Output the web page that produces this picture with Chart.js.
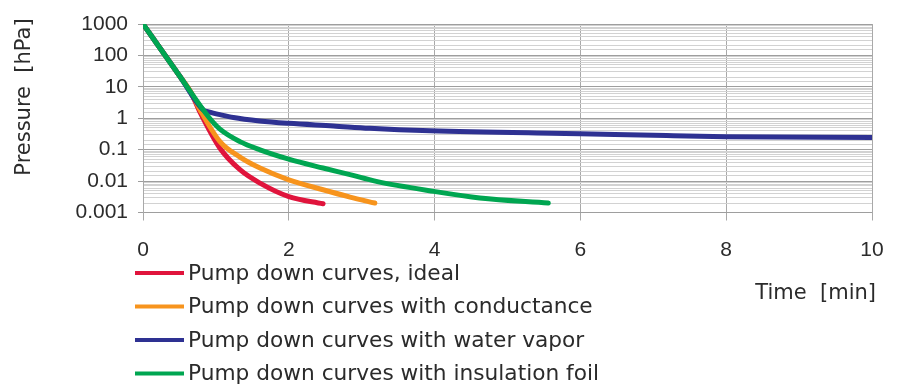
<!DOCTYPE html>
<html>
<head>
<meta charset="utf-8">
<script src="https://cdn.jsdelivr.net/npm/chart.js@4/dist/chart.umd.min.js"></script>
<style>
  html, body { margin: 0; padding: 0; background: #fff; }
  #wrap { width: 903px; height: 385px; position: relative; }
</style>
</head>
<body>
<div id="wrap"><canvas id="chart"></canvas></div>
<script>
// データ
var seriesNames = [
    'Pump down curves, ideal',
    'Pump down curves with conductance',
    'Pump down curves with water vapor',
    'Pump down curves with insulation foil'
];
var timeIdeal = [0, 0.5, 0.66, 0.78, 1.056, 1.33, 1.605, 2.0, 2.47];
var pressIdeal = [1000, 22.6, 6.4, 1.6, 0.111, 0.023, 0.0086, 0.0032, 0.0019];

var timeConductance = [0, 0.5, 0.66, 0.78, 1.056, 1.33, 1.605, 2.0, 2.47, 2.84, 3.18];
var pressConductance = [1000, 22.6, 6.6, 1.9, 0.18, 0.058, 0.026, 0.011, 0.0053, 0.0031, 0.002];

var timeVapor = [0, 0.5, 0.83, 0.9, 1.056, 1.24, 1.6, 2.0, 2.61, 3.11, 3.94, 6.0, 7.18, 8.0, 10];
var pressVapor = [1000, 22.6, 1.8, 1.6, 1.3, 1.05, 0.82, 0.69, 0.57, 0.48, 0.40, 0.32, 0.28, 0.26, 0.245];

var timeFoil = [0, 0.5, 0.9, 1.056, 1.33, 1.605, 2.0, 2.47, 2.84, 3.2, 3.99, 4.62, 5.56];
var pressFoil = [1000, 22.6, 1.1, 0.45, 0.18, 0.099, 0.05, 0.026, 0.016, 0.0098, 0.0047, 0.0029, 0.002];

var xTicks = [0, 2, 4, 6, 8, 10];
var yTicks = [1000, 100, 10, 1, 0.1, 0.01, 0.001];

var FONT = '"DejaVu Sans", sans-serif';
var TICK_FONT = '"Liberation Sans", Arial, sans-serif';

function toPoints(xs, ys) {
    return xs.map(function (x, i) { return { x: x, y: ys[i] }; });
}

function isMajor(v) {
    var l = Math.log10(v);
    return Math.abs(l - Math.round(l)) < 1e-6;
}

// 凡例と軸タイトル
var extraText = {
    id: 'extraText',
    afterDraw: function (chart) {
        var ctx = chart.ctx;
        ctx.save();
        ctx.fillStyle = '#2b2b2b';
        ctx.textBaseline = 'middle';

        // y軸タイトル
        ctx.font = '21px ' + FONT;
        ctx.save();
        ctx.translate(25, 97);
        ctx.rotate(-Math.PI / 2);
        ctx.textAlign = 'center';
        ctx.fillText('Pressure  [hPa]', 0, 0);
        ctx.restore();

        // x軸タイトル
        ctx.textAlign = 'right';
        ctx.fillText('Time  [min]', 876, 294);

        // 凡例
        ctx.font = '21.7px ' + FONT;
        ctx.textAlign = 'left';
        chart.data.datasets.forEach(function (ds, i) {
            var y = 273 + i * 33.5;
            ctx.strokeStyle = ds.borderColor;
            ctx.lineWidth = 4;
            ctx.beginPath();
            ctx.moveTo(135, y);
            ctx.lineTo(184, y);
            ctx.stroke();
            ctx.fillText(ds.label, 188, y + 1);
        });
        ctx.restore();
    }
};

var ctx = document.getElementById('chart');
var chart = new Chart(ctx, {
    type: 'line',
    data: {
        datasets: [
            { label: seriesNames[0], data: toPoints(timeIdeal, pressIdeal), borderColor: '#e0143c', order: 3 },
            { label: seriesNames[1], data: toPoints(timeConductance, pressConductance), borderColor: '#f7941d', order: 2 },
            { label: seriesNames[2], data: toPoints(timeVapor, pressVapor), borderColor: '#2e3192', order: 1 },
            { label: seriesNames[3], data: toPoints(timeFoil, pressFoil), borderColor: '#00a651', order: 0 }
        ]
    },
    options: {
        responsive: true,
        maintainAspectRatio: false,
        animation: false,
        elements: {
            line: { borderWidth: 5, cubicInterpolationMode: 'monotone', borderCapStyle: 'round', borderJoinStyle: 'round' },
            point: { radius: 0 }
        },
        layout: { padding: { left: 0, top: 24, right: 31, bottom: 0 } },
        plugins: {
            legend: { display: false },
            tooltip: { enabled: false }
        },
        scales: {
            x: {
                type: 'linear',
                min: 0,
                max: 10,
                afterBuildTicks: function (scale) {
                    scale.ticks = xTicks.map(function (v) { return { value: v }; });
                },
                afterFit: function (scale) { scale.height = 172.5; },
                ticks: { font: { family: TICK_FONT, size: 21 }, color: '#2b2b2b', padding: 17, maxRotation: 0 },
                grid: { color: '#a9a9a9', lineWidth: 1, tickLength: 8, tickColor: '#a9a9a9' },
                border: { display: false }
            },
            y: {
                type: 'logarithmic',
                min: 0.001,
                max: 1000,
                afterFit: function (scale) { scale.width = 143; },
                ticks: {
                    autoSkip: false,
                    font: { family: TICK_FONT, size: 21 },
                    color: '#2b2b2b',
                    padding: 10,
                    callback: function (v) {
                        if (!isMajor(v)) return '';
                        var n = Number(v.toPrecision(6));
                        return yTicks.indexOf(n) >= 0 ? String(n) : '';
                    }
                },
                grid: {
                    lineWidth: 1,
                    tickLength: 5,
                    color: function (c) { return c.tick && isMajor(c.tick.value) ? '#9e9e9e' : '#d2d2d2'; },
                    tickColor: function (c) { return c.tick && isMajor(c.tick.value) ? '#9e9e9e' : 'rgba(0,0,0,0)'; }
                },
                border: { display: true, color: '#a9a9a9' }
            }
        }
    },
    plugins: [extraText]
});
</script>
</body>
</html>
